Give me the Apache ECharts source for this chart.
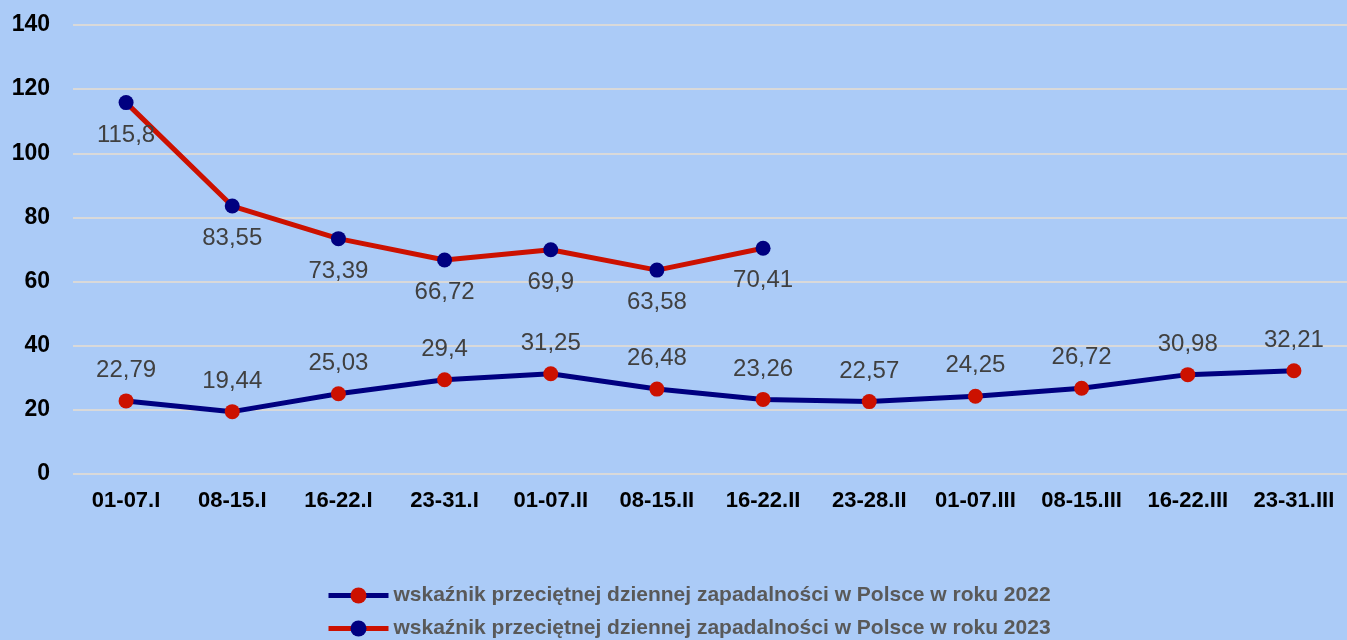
<!DOCTYPE html>
<html>
<head>
<meta charset="utf-8">
<script src="https://cdn.jsdelivr.net/npm/echarts@6/dist/echarts.min.js"></script>
<style>
    html, body { margin: 0; padding: 0; background: #abcbf7; }
    #main { width: 1347px; height: 640px; }
</style>
</head>
<body>
<div id="main"></div>
<script>
// tygodnie (kategorie osi X)
const categories = ['01-07.I', '08-15.I', '16-22.I', '23-31.I', '01-07.II', '08-15.II', '16-22.II',
    '23-28.II', '01-07.III', '08-15.III', '16-22.III', '23-31.III'];
const values2022 = [22.79, 19.44, 25.03, 29.4, 31.25, 26.48, 23.26, 22.57, 24.25, 26.72, 30.98, 32.21];
const values2023 = [115.8, 83.55, 73.39, 66.72, 69.9, 63.58, 70.41];
const name2022 = 'wskaźnik przeciętnej dziennej zapadalności w Polsce w roku 2022';
const name2023 = 'wskaźnik przeciętnej dziennej zapadalności w Polsce w roku 2023';

const NAVY = '#000080', RED = '#cc1100';
const FONT = 'Liberation Sans';

let fmt = (p) => String(p.value).replace('.', ',');

// jedna legenda na wiersz
let legendRow = (name, top) => ({
    data: [name],
    left: 326,
    top: top,
    padding: 0,
    itemWidth: 60,
    itemHeight: 20,
    lineStyle: { width: 5 },
    textStyle: { color: '#595959', fontSize: 21, fontWeight: 'bold', fontFamily: FONT }
});

let myChart = echarts.init(document.getElementById('main'), null, { renderer: 'canvas' });
myChart.setOption({
    backgroundColor: '#abcbf7',
    animation: false,
    grid: { left: 73, right: -7, top: 25, bottom: 166 },
    legend: [legendRow(name2022, 585), legendRow(name2023, 618)],
    xAxis: {
        type: 'category',
        data: categories,
        axisLine: { show: false },
        axisTick: { show: false },
        axisLabel: { color: '#000', fontSize: 22, fontWeight: 'bold', fontFamily: FONT, margin: 16, interval: 0 }
    },
    yAxis: {
        type: 'value',
        min: 0,
        max: 140,
        interval: 20,
        axisLabel: { color: '#000', fontSize: 23, fontWeight: 'bold', fontFamily: FONT, margin: 23 },
        splitLine: { lineStyle: { color: '#d9d9d9', width: 2 } }
    },
    series: [
        {
            name: name2022,
            type: 'line',
            data: values2022,
            symbol: 'circle',
            symbolSize: 15,
            lineStyle: { color: NAVY, width: 5 },
            itemStyle: { color: RED },
            label: {
                show: true, position: 'top', distance: 11, formatter: fmt,
                color: '#404040', fontSize: 24, fontFamily: FONT
            }
        },
        {
            name: name2023,
            type: 'line',
            data: values2023,
            symbol: 'circle',
            symbolSize: 15,
            lineStyle: { color: RED, width: 5 },
            itemStyle: { color: NAVY },
            label: {
                show: true, position: 'bottom', distance: 13, formatter: fmt,
                color: '#404040', fontSize: 24, fontFamily: FONT
            }
        }
    ]
});
</script>
</body>
</html>
